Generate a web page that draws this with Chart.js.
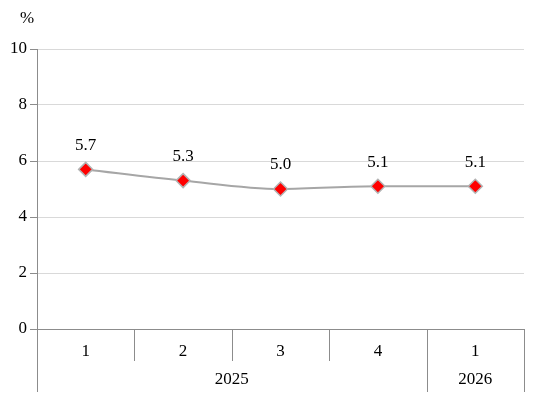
<!DOCTYPE html>
<html lang="zh">
<head>
  <meta charset="UTF-8">
  <title>%</title>
  <style>
    body { margin: 0; background: #fff; }
    #chart { display: block; }
  </style>
  <script src="https://cdn.jsdelivr.net/npm/chart.js"></script>
</head>
<body>
  <canvas id="chart" width="547" height="416"></canvas>
  <script>
    // данные
    const quarters = ['1', '2', '3', '4', '1'];
    const years = ['2025', '2025', '2025', '2025', '2026'];
    const values = [5.7, 5.3, 5.0, 5.1, 5.1];
    const yTicks = [0, 2, 4, 6, 8, 10];

    const FONT = '"Liberation Serif", "Times New Roman", serif';
    const AXIS = '#8c8c8c';

    // подписи, разделители и год
    const extras = {
      id: 'extras',
      afterDraw(chart) {
        const ctx = chart.ctx;
        const x = chart.scales.x;
        const bottom = x.top;
        ctx.save();
        ctx.font = '17px ' + FONT;
        ctx.fillStyle = '#000';
        ctx.textAlign = 'center';
        ctx.textBaseline = 'middle';
        ctx.fillText('%', 27, 19);

        // значения над точками
        const meta = chart.getDatasetMeta(0);
        meta.data.forEach((p, i) => {
          ctx.fillText(values[i].toFixed(1), p.x, p.y - 24);
        });

        // границы категорий
        const edge = i => i === 0 ? x.left : i === quarters.length ? x.right
          : (x.getPixelForValue(i - 1) + x.getPixelForValue(i)) / 2;
        ctx.strokeStyle = AXIS;
        ctx.lineWidth = 1;
        for (let i = 0; i <= quarters.length; i++) {
          const px = Math.round(edge(i)) + 0.5;
          const isYear = i === 0 || i === quarters.length || years[i] !== years[i - 1];
          ctx.beginPath();
          ctx.moveTo(px, bottom);
          ctx.lineTo(px, bottom + (isYear ? 63 : 32));
          ctx.stroke();
        }
        // ряд лет
        let start = 0;
        for (let i = 1; i <= years.length; i++) {
          if (i === years.length || years[i] !== years[start]) {
            const cx = (edge(start) + edge(i)) / 2;
            ctx.fillText(years[start], cx, bottom + 51);
            start = i;
          }
        }
        ctx.restore();
      }
    };

    new Chart(document.getElementById('chart'), {
      type: 'line',
      data: {
        labels: quarters,
        datasets: [{
          data: values,
          borderColor: '#a6a6a6',
          borderWidth: 2,
          cubicInterpolationMode: 'monotone',
          pointStyle: 'rectRot',
          pointRadius: 7,
          pointHoverRadius: 7,
          pointBackgroundColor: '#ff0000',
          pointBorderColor: '#b3b3b3',
          pointBorderWidth: 1.5
        }]
      },
      options: {
        responsive: false,
        animation: false,
        devicePixelRatio: 1,
        layout: { padding: { top: 49, right: 23, left: 0, bottom: 0 } },
        plugins: { legend: { display: false }, tooltip: { enabled: false } },
        scales: {
          x: {
            offset: true,
            grid: { display: false },
            border: { color: AXIS },
            ticks: { color: '#000', font: { family: FONT, size: 17 }, padding: 4, maxRotation: 0 },
            afterFit(s) { s.height = 87; }
          },
          y: {
            min: 0, max: 10,
            afterBuildTicks(s) { s.ticks = yTicks.map(v => ({ value: v })); },
            grid: { color: '#d9d9d9', tickColor: AXIS, tickLength: 7 },
            border: { color: AXIS },
            ticks: { color: '#000', font: { family: FONT, size: 17 }, padding: 3 },
            afterFit(s) { s.width = 37; }
          }
        }
      },
      plugins: [extras]
    });
  </script>
</body>
</html>
